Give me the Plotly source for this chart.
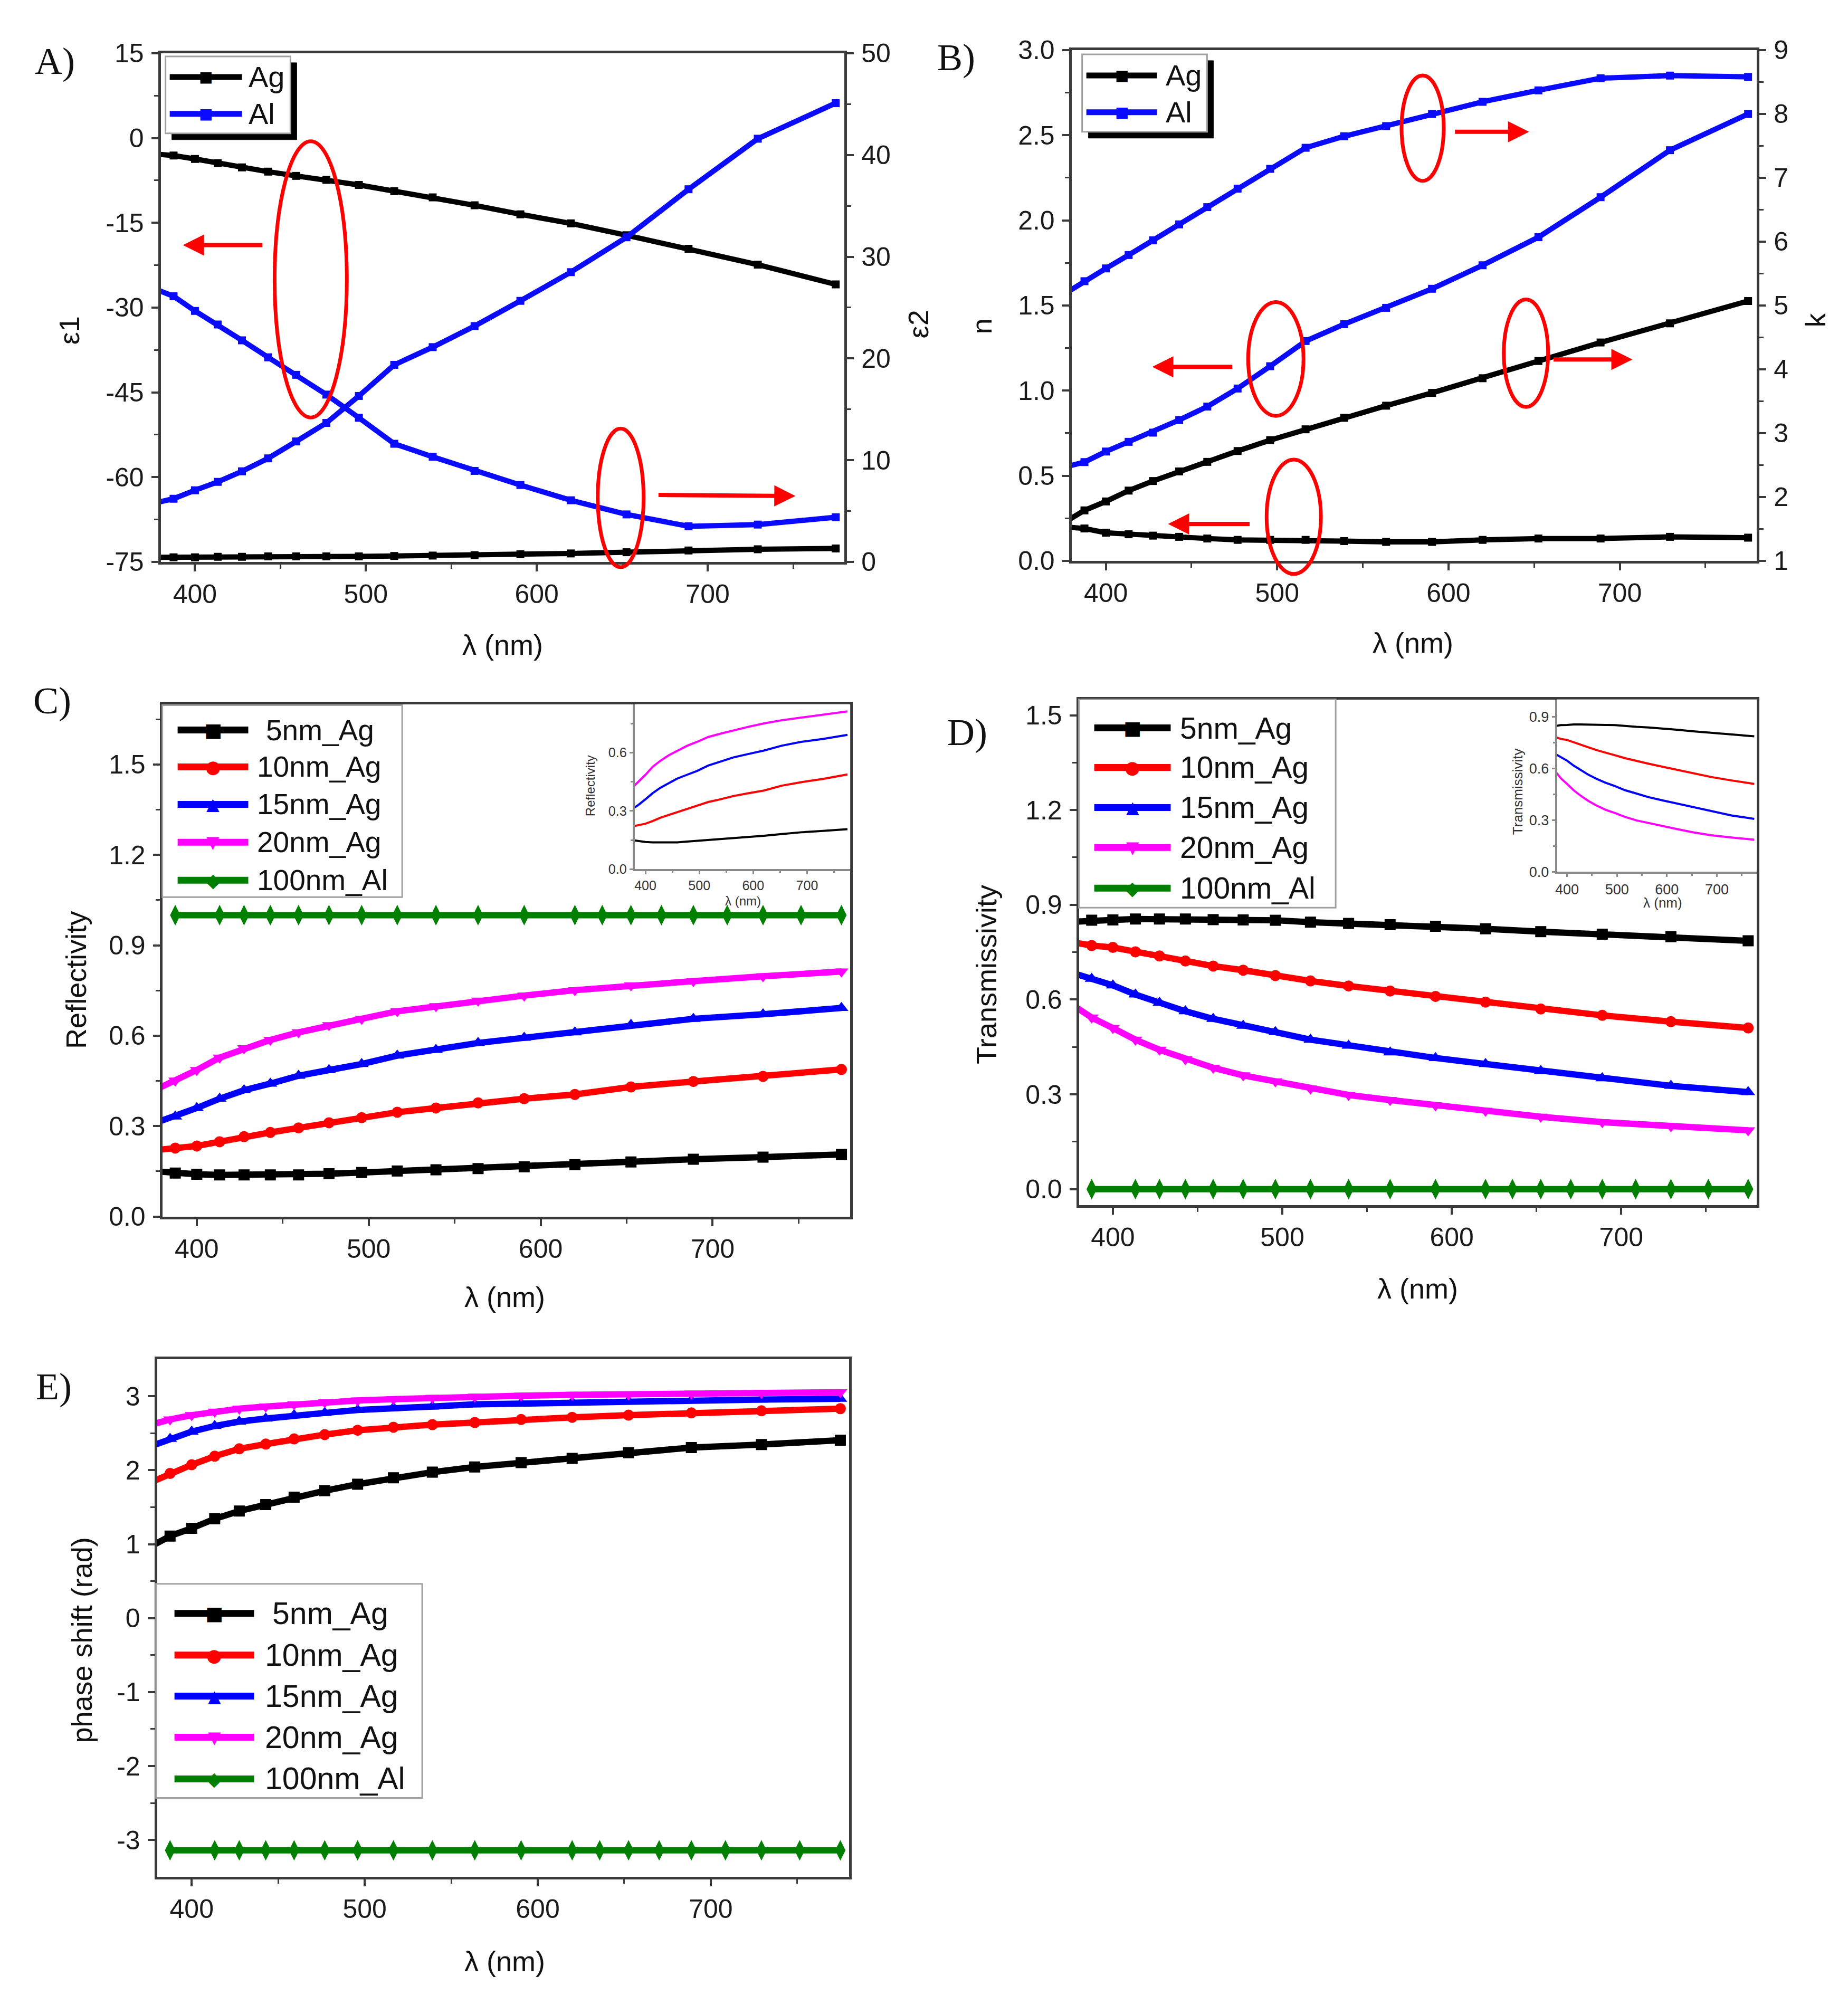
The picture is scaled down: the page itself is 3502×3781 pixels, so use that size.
import plotly.graph_objects as go

W, H = 3502, 3781
SANS = "Liberation Sans, Arial, sans-serif"
SERIF = "Liberation Serif, Times New Roman, serif"
SYM = "DejaVu Sans, sans-serif"

# ---------------- data ----------------
# wavelength grids (nm)
wl_ag = [375.7, 387.5, 400.0, 413.3, 427.5, 442.8, 459.2, 476.9, 495.9, 516.6, 539.1,
         563.6, 590.4, 619.9, 652.5, 688.8, 729.3, 774.9]
wl_al = [387.5, 413.3, 427.5, 442.8, 459.2, 476.9, 495.9, 516.6, 539.1, 563.6, 590.4,
         619.9, 635.8, 652.5, 670.2, 688.8, 708.5, 729.3, 751.4, 774.9]

# A) permittivity
ag_eps1 = [-2.8, -3.1, -3.7, -4.45, -5.2, -5.95, -6.7, -7.4, -8.3, -9.4, -10.5, -11.9,
           -13.5, -15.1, -17.2, -19.6, -22.4, -25.9]
al_eps1 = [-26.6, -28.0, -30.6, -33.0, -35.8, -38.8, -41.9, -45.4, -49.5, -54.1, -56.4,
           -58.9, -61.4, -64.1, -66.6, -68.7, -68.4, -67.1]
ag_eps2 = [0.45, 0.45, 0.45, 0.5, 0.5, 0.54, 0.54, 0.54, 0.54, 0.58, 0.62, 0.66, 0.75,
           0.83, 0.95, 1.12, 1.24, 1.32]
al_eps2 = [5.75, 6.21, 7.04, 7.86, 8.9, 10.18, 11.84, 13.66, 16.31, 19.37, 21.11, 23.18,
           25.66, 28.48, 31.91, 36.63, 41.6, 45.1]

# B) refractive index n and extinction k
ag_n = [0.2, 0.19, 0.165, 0.156, 0.148, 0.141, 0.131, 0.123, 0.123, 0.123, 0.116, 0.111,
        0.111, 0.123, 0.131, 0.131, 0.141, 0.136]
al_n = [0.55, 0.58, 0.642, 0.699, 0.753, 0.827, 0.906, 1.012, 1.143, 1.291, 1.39, 1.486,
        1.598, 1.736, 1.901, 2.136, 2.412, 2.625]
ag_k = [1.6, 1.79, 1.93, 2.10, 2.25, 2.40, 2.55, 2.72, 2.89, 3.06, 3.24, 3.43, 3.63, 3.86,
        4.13, 4.42, 4.72, 5.07]
al_k = [5.18, 5.38, 5.58, 5.79, 6.02, 6.27, 6.54, 6.83, 7.14, 7.47, 7.65, 7.81, 8.0, 8.19,
        8.37, 8.56, 8.6, 8.58]

# C) reflectivity
refl_5 = [0.15, 0.144, 0.14, 0.138, 0.138, 0.138, 0.138, 0.142, 0.146, 0.151, 0.155, 0.159,
          0.165, 0.172, 0.181, 0.19, 0.197, 0.206]
refl_10 = [0.22, 0.227, 0.234, 0.248, 0.265, 0.279, 0.294, 0.311, 0.328, 0.346, 0.36, 0.377,
           0.391, 0.405, 0.43, 0.448, 0.465, 0.488]
refl_15 = [0.31, 0.332, 0.36, 0.391, 0.419, 0.441, 0.467, 0.486, 0.506, 0.534, 0.553, 0.576,
           0.593, 0.611, 0.636, 0.656, 0.671, 0.692]
refl_20 = [0.42, 0.451, 0.486, 0.527, 0.558, 0.586, 0.611, 0.635, 0.656, 0.681, 0.698, 0.716,
           0.733, 0.751, 0.767, 0.781, 0.797, 0.813]
refl_al = [1.0, 1.0, 1.0, 1.0, 1.0, 1.0, 1.0, 1.0, 1.0, 1.0, 1.0, 1.0, 1.0, 1.0, 1.0, 1.0,
           1.0, 1.0, 1.0, 1.0]

# D) transmissivity
trans_5 = [0.846, 0.851, 0.852, 0.855, 0.855, 0.855, 0.853, 0.852, 0.851, 0.845, 0.841, 0.837,
           0.832, 0.824, 0.815, 0.807, 0.799, 0.786]
trans_10 = [0.782, 0.771, 0.765, 0.751, 0.738, 0.722, 0.706, 0.693, 0.676, 0.659, 0.643, 0.627,
            0.61, 0.592, 0.57, 0.55, 0.53, 0.51]
trans_15 = [0.685, 0.666, 0.645, 0.616, 0.59, 0.563, 0.539, 0.517, 0.497, 0.473, 0.454, 0.433,
            0.415, 0.396, 0.374, 0.351, 0.327, 0.307]
trans_20 = [0.585, 0.543, 0.51, 0.473, 0.441, 0.411, 0.384, 0.36, 0.341, 0.318, 0.298, 0.282,
            0.265, 0.248, 0.229, 0.212, 0.199, 0.186]
trans_al = [0.0, 0.0, 0.0, 0.0, 0.0, 0.0, 0.0, 0.0, 0.0, 0.0, 0.0, 0.0, 0.0, 0.0, 0.0, 0.0,
            0.0, 0.0, 0.0, 0.0]

# E) phase shift
phase_5 = [0.96, 1.11, 1.215, 1.343, 1.449, 1.536, 1.636, 1.723, 1.811, 1.898, 1.974, 2.044,
           2.103, 2.161, 2.237, 2.307, 2.348, 2.407]
phase_10 = [1.83, 1.957, 2.074, 2.19, 2.29, 2.354, 2.424, 2.482, 2.541, 2.582, 2.617, 2.646,
            2.687, 2.716, 2.745, 2.775, 2.804, 2.833]
phase_15 = [2.32, 2.424, 2.523, 2.599, 2.658, 2.699, 2.745, 2.775, 2.815, 2.845, 2.862, 2.891,
            2.903, 2.921, 2.932, 2.944, 2.956, 2.967]
phase_20 = [2.61, 2.687, 2.745, 2.792, 2.833, 2.862, 2.891, 2.921, 2.944, 2.961, 2.979, 2.996,
            3.008, 3.02, 3.026, 3.037, 3.043, 3.055]
phase_al = [-3.14, -3.14, -3.14, -3.14, -3.14, -3.14, -3.14, -3.14, -3.14, -3.14, -3.14, -3.14,
            -3.14, -3.14, -3.14, -3.14, -3.14, -3.14, -3.14, -3.14]

series_names = ["5nm_Ag", "10nm_Ag", "15nm_Ag", "20nm_Ag", "100nm_Al"]
series_colors = ["#000000", "#ff0000", "#0000ff", "#ff00ff", "#008000"]
series_symbols = ["square", "circle", "triangle-up", "triangle-down", "diamond-tall"]
series_msizes = [21, 21, 23, 23, 28]
series_glyphs = ["\u25a0", "\u25cf", "\u25b2", "\u25bc", "\u25c6"]

# tick labels
x_tickvals = [400, 500, 600, 700]
x_ticktext = ["400", "500", "600", "700"]
x_minor = [450, 550, 650, 750]
a_left_vals = [-75, -60, -45, -30, -15, 0, 15]
a_left_text = ["-75", "-60", "-45", "-30", "-15", "0", "15"]
a_right_vals = [0, 10, 20, 30, 40, 50]
a_right_text = ["0", "10", "20", "30", "40", "50"]
b_left_vals = [0, 0.5, 1.0, 1.5, 2.0, 2.5, 3.0]
b_left_text = ["0.0", "0.5", "1.0", "1.5", "2.0", "2.5", "3.0"]
b_right_vals = [1, 2, 3, 4, 5, 6, 7, 8, 9]
b_right_text = ["1", "2", "3", "4", "5", "6", "7", "8", "9"]
cd_vals = [0, 0.3, 0.6, 0.9, 1.2, 1.5]
cd_text = ["0.0", "0.3", "0.6", "0.9", "1.2", "1.5"]
e_vals = [-3, -2, -1, 0, 1, 2, 3]
e_text = ["-3", "-2", "-1", "0", "1", "2", "3"]

# ---------------- figure ----------------
fig = go.Figure()


def add(x, y, xa, ya, color, symbol, name, width=12, msize=19, mode="lines+markers"):
    fig.add_trace(go.Scatter(
        x=x, y=y, xaxis=xa, yaxis=ya, mode=mode, name=name, showlegend=False,
        line=dict(color=color, width=width),
        marker=dict(symbol=symbol, size=msize, color=color, line=dict(width=0)),
        cliponaxis=True))


BLUE = "#0a0aff"
# A
add(wl_ag, ag_eps1, "x", "y", "#000000", "square", "Ag", 10, 15)
add(wl_ag, al_eps1, "x", "y", BLUE, "square", "Al", 10, 15)
add(wl_ag, ag_eps2, "x", "y2", "#000000", "square", "Ag", 10, 15)
add(wl_ag, al_eps2, "x", "y2", BLUE, "square", "Al", 10, 15)
# B
add(wl_ag, ag_n, "x2", "y3", "#000000", "square", "Ag", 10, 15)
add(wl_ag, al_n, "x2", "y3", BLUE, "square", "Al", 10, 15)
add(wl_ag, ag_k, "x2", "y4", "#000000", "square", "Ag", 10, 15)
add(wl_ag, al_k, "x2", "y4", BLUE, "square", "Al", 10, 15)

# C, D, E
c_data = [refl_5, refl_10, refl_15, refl_20]
d_data = [trans_5, trans_10, trans_15, trans_20]
e_data = [phase_5, phase_10, phase_15, phase_20]
for i in range(4):
    for dat, xa, ya in [(c_data, "x3", "y5"), (d_data, "x5", "y7"), (e_data, "x7", "y9")]:
        add(wl_ag, dat[i], xa, ya, series_colors[i], series_symbols[i], series_names[i],
            12, series_msizes[i])
for dat, xa, ya in [(refl_al, "x3", "y5"), (trans_al, "x5", "y7"), (phase_al, "x7", "y9")]:
    add(wl_al, dat, xa, ya, series_colors[4], series_symbols[4], series_names[4], 12, series_msizes[4])
# insets
for i in range(4):
    add(wl_ag, c_data[i], "x4", "y6", series_colors[i], series_symbols[i], series_names[i], 4, 0, "lines")
    add(wl_ag, d_data[i], "x6", "y8", series_colors[i], series_symbols[i], series_names[i], 4, 0, "lines")

LC = "#3a3a3a"
IC = "#8a8a8a"


def axis(rng, tickvals, ticktext, minor, anchor, domain=None, **kw):
    d = dict(range=rng, anchor=anchor, tickmode="array", tickvals=tickvals, ticktext=ticktext,
             showgrid=False, zeroline=False, showline=True, linecolor=LC, linewidth=5,
             ticks="outside", ticklen=13, tickwidth=4, tickcolor=LC, ticklabelstandoff=4,
             tickfont=dict(family=SANS, size=50, color="#1a1a1a"),
             minor=dict(tickmode="array", tickvals=minor, ticks="outside", ticklen=8,
                        tickwidth=3, tickcolor=LC, showgrid=False))
    if domain is not None:
        d["domain"] = domain
    d.update(kw)
    return d


def xaxis(rng, anchor, domain):
    return axis(rng, x_tickvals, x_ticktext, x_minor, anchor, domain, mirror=True, ticklabelstandoff=0)


def inset_axis(rng, tickvals, ticktext, minor, anchor, domain, size):
    d = axis(rng, tickvals, ticktext, minor, anchor, domain, linecolor=IC, linewidth=4,
             tickcolor=IC, ticklen=6, tickwidth=3, ticklabelstandoff=0, mirror=False,
             tickfont=dict(family=SANS, size=size, color="#333333"))
    d["minor"].update(ticklen=4, tickcolor=IC)
    return d


# pixel -> paper conversion (calibrated for the rendering's offset)
L0 = 8.0
T0, B0 = 37.0, 16.0


def fx(p):
    return (p - L0) / W


def fy(p):
    return 1 - (p - T0) / (H - T0 - B0)


dA_x = [fx(301), fx(1598)]
dA_y = [fy(1067), fy(102)]
dB_x = [fx(2029), fx(3329)]
dB_y = [fy(1065), fy(96)]
dC_x = [fx(304), fx(1609)]
dC_y = [fy(2309), fy(1337)]
dD_x = [fx(2043), fx(3329)]
dD_y = [fy(2287), fy(1328)]
dE_x = [fx(294), fx(1607)]
dE_y = [fy(3562), fy(2580)]
dCi_x = [fx(1200), fx(1609)]
dCi_y = [fy(1650), fy(1337)]
dDi_x = [fx(2950), fx(3329)]
dDi_y = [fy(1655), fy(1328)]

fig.update_layout(
    width=W, height=H, margin=dict(l=0, r=0, t=0, b=0, pad=0),
    paper_bgcolor="white", plot_bgcolor="white", showlegend=False,
    xaxis=xaxis([380, 780], "y", dA_x),
    yaxis=axis([-75, 15], a_left_vals, a_left_text, [-67.5, -52.5, -37.5, -22.5, -7.5, 7.5], "x", dA_y),
    yaxis2=axis([0, 50], a_right_vals, a_right_text, [5, 15, 25, 35, 45], "x",
                overlaying="y", side="right"),
    xaxis2=xaxis([380, 780], "y3", dB_x),
    yaxis3=axis([0, 3.0], b_left_vals, b_left_text, [0.25, 0.75, 1.25, 1.75, 2.25, 2.75], "x2", dB_y),
    yaxis4=axis([1, 9], b_right_vals, b_right_text, [1.5, 2.5, 3.5, 4.5, 5.5, 6.5, 7.5, 8.5], "x2",
                overlaying="y3", side="right"),
    xaxis3=xaxis([380, 780], "y5", dC_x),
    yaxis5=axis([0, 1.7], cd_vals, cd_text, [0.15, 0.45, 0.75, 1.05, 1.35, 1.65], "x3", dC_y, mirror=True),
    xaxis4=inset_axis([380, 780], x_tickvals, x_ticktext, x_minor, "y6", dCi_x, 25),
    yaxis6=inset_axis([0, 0.85], [0, 0.3, 0.6], ["0.0", "0.3", "0.6"], [0.15, 0.45, 0.75], "x4", dCi_y, 25),
    xaxis5=xaxis([380, 780], "y7", dD_x),
    yaxis7=axis([-0.05, 1.55], cd_vals, cd_text, [0.15, 0.45, 0.75, 1.05, 1.35], "x5", dD_y, mirror=True),
    xaxis6=inset_axis([380, 780], x_tickvals, x_ticktext, x_minor, "y8", dDi_x, 27),
    yaxis8=inset_axis([0, 1.0], [0, 0.3, 0.6, 0.9], ["0.0", "0.3", "0.6", "0.9"], [0.15, 0.45, 0.75],
                      "x6", dDi_y, 27),
    xaxis7=xaxis([380, 780], "y9", dE_x),
    yaxis9=axis([-3.5, 3.5], e_vals, e_text, [-2.5, -1.5, -0.5, 0.5, 1.5, 2.5], "x7", dE_y, mirror=True),
)


# ---------------- decorations (paper coordinates from pixels) ----------------
def txt(s, x, y, size, angle=0, family=SANS, color="#111111", xanchor="center"):
    fig.add_annotation(text=s, x=fx(x), y=fy(y), xref="paper", yref="paper", showarrow=False,
                       textangle=angle, xanchor=xanchor, yanchor="middle",
                       font=dict(family=family, size=size, color=color))


def rect(x0, y0, x1, y1, fill, border, bw):
    fig.add_shape(type="rect", xref="paper", yref="paper", x0=fx(x0), x1=fx(x1), y0=fy(y1), y1=fy(y0),
                  fillcolor=fill, line=dict(color=border, width=bw), layer="above")


def hline(x0, x1, y, color, w):
    fig.add_shape(type="line", xref="paper", yref="paper", x0=fx(x0), x1=fx(x1), y0=fy(y), y1=fy(y),
                  line=dict(color=color, width=w), layer="above")


def ellipse(x0, y0, x1, y1):
    fig.add_shape(type="circle", xref="paper", yref="paper", x0=fx(x0), x1=fx(x1), y0=fy(y1), y1=fy(y0),
                  line=dict(color="#ff0000", width=7), layer="above")


def arrow(hx, hy, tx, ty):
    fig.add_annotation(x=fx(hx), y=fy(hy), xref="paper", yref="paper", ax=tx - hx, ay=ty - hy,
                       axref="pixel", ayref="pixel", showarrow=True, text="", arrowhead=2,
                       arrowsize=1, arrowwidth=8, arrowcolor="#ff0000")


# panel letters
txt("A)", 100, 117, 72, family=SERIF)
txt("B)", 1810, 110, 72, family=SERIF)
txt("C)", 95, 1330, 72, family=SERIF)
txt("D)", 1831, 1390, 72, family=SERIF)
txt("E)", 98, 2632, 72, family=SERIF)

# axis titles
TS = 54
txt("\u03b51", 128, 628, TS, angle=-90)
txt("\u03b52", 1738, 616, TS, angle=-90)
txt("\u03bb (nm)", 950, 1224, TS)
txt("n", 1858, 620, TS, angle=-90)
txt("k", 3440, 608, TS, angle=-90)
txt("\u03bb (nm)", 2677, 1220, TS)
txt("Reflectivity", 140, 1860, TS, angle=-90)
txt("\u03bb (nm)", 954, 2462, TS)
txt("Transmissivity", 1867, 1850, TS, angle=-90)
txt("\u03bb (nm)", 2686, 2446, TS)
txt("phase shift (rad)", 151, 3113, TS, angle=-90)
txt("\u03bb (nm)", 954, 3722, TS)
# inset titles
txt("Reflectivity", 1116, 1492, 24, angle=-90, color="#333333")
txt("\u03bb (nm)", 1406, 1710, 24, color="#333333")
txt("Transmissivity", 2876, 1503, 26, angle=-90, color="#333333")
txt("\u03bb (nm)", 3151, 1714, 26, color="#333333")

# legends A and B (with drop shadow)
for (bx0, by0, bx1, by1, lx0, lx1, tx, ys) in [
        (310, 108, 547, 254, 318, 455, 466, (147, 217)),
        (2049, 104, 2286, 251, 2057, 2191, 2206, (144, 214))]:
    rect(bx0 + 12, by0 + 12, bx1 + 12, by1 + 12, "#000000", "#000000", 1)
    rect(bx0, by0, bx1, by1, "#ffffff", "#a0a0a0", 3)
    for lab, col, yy in [("Ag", "#000000", ys[0]), ("Al", BLUE, ys[1])]:
        hline(lx0, lx1, yy, col, 11)
        txt("\u25a0", (lx0 + lx1) / 2, yy, 28, family=SYM, color=col)
        txt(lab, tx, yy, 56, xanchor="left", color="#111111")

# legends C, D, E
leg_specs = [
    ((304, 1339, 759, 1703), [1386, 1456, 1527, 1599, 1671], 333, 467, [499, 482, 482, 482, 482], 55),
    ((2043, 1328, 2530, 1723), [1382, 1457, 1533, 1609, 1686], 2072, 2217, [2233, 2233, 2233, 2233, 2233], 57),
    ((292, 3006, 797, 3412), [3062, 3141, 3219, 3297, 3376], 327, 478, [511, 497, 497, 497, 497], 59),
]
glyph_sizes = [36, 34, 32, 32, 36]
for (box, ys, lx0, lx1, txs, fs) in leg_specs:
    rect(box[0], box[1], box[2], box[3], "#ffffff", "#a0a0a0", 3)
    for i in range(5):
        hline(lx0, lx1, ys[i], series_colors[i], 13)
        txt(series_glyphs[i], (lx0 + lx1) / 2, ys[i], glyph_sizes[i], family=SYM, color=series_colors[i])
        txt(series_names[i], txs[i], ys[i], fs, xanchor="left", color="#111111")

# red ellipses and arrows
ellipse(517, 269, 654, 793)
ellipse(1130, 814, 1217, 1077)
ellipse(2655, 144, 2735, 344)
ellipse(2364, 574, 2469, 790)
ellipse(2849, 569, 2933, 773)
ellipse(2399, 873, 2502, 1090)
arrow(343, 466, 495, 466)
arrow(1505, 942, 1244, 940)
arrow(2897, 251, 2755, 251)
arrow(2182, 697, 2335, 697)
arrow(3093, 683, 2942, 683)
arrow(2212, 995, 2368, 995)

fig.write_html("out.html")
